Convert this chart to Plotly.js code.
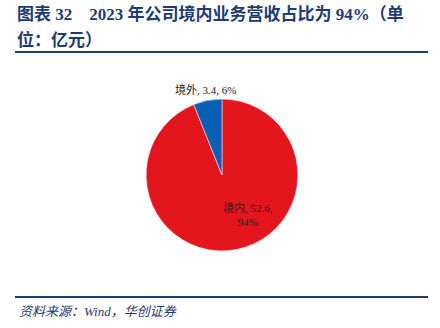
<!DOCTYPE html>
<html><head><meta charset="utf-8">
<script src="https://cdn.plot.ly/plotly-3.0.1.min.js"></script>
<style>html,body{margin:0;padding:0;background:#fff}#chart{width:440px;height:328px}</style>
</head><body><div id="chart"></div>
<script>
const categories = ["境内", "境外"];
const values = [52.6, 3.4];
const percents = ["94%", "6%"];
const colors = ["#E3161E", "#0A5FB4"];

const navy = "#1F3B73";
const serif = "'Liberation Serif','Noto Sans CJK SC',serif";

const data = [{
  type: "pie",
  labels: categories,
  values: values,
  sort: false,
  direction: "clockwise",
  rotation: 0,
  marker: {colors: colors, line: {color: "#ffffff", width: 0.5}},
  textinfo: "none",
  hoverinfo: "label+value+percent",
  automargin: false,
  domain: {x: [0.332, 0.677], y: [0.235, 0.698]},
  showlegend: false
}];

const layout = {
  width: 440, height: 328,
  margin: {l: 0, r: 0, t: 0, b: 0},
  paper_bgcolor: "#fff",
  showlegend: false,
  shapes: [
    {type: "line", xref: "paper", yref: "paper", x0: 15/440, x1: 428/440, y0: 1-52/328, y1: 1-52/328, line: {color: navy, width: 2}},
    {type: "line", xref: "paper", yref: "paper", x0: 15/440, x1: 428/440, y0: 1-297/328, y1: 1-297/328, line: {color: navy, width: 2}}
  ],
  annotations: [
    {xref: "paper", yref: "paper", x: 15/440, y: 1-14/328, xanchor: "left", yanchor: "middle", align: "left",
     text: "<b>图表 32　2023 年公司境内业务营收占比为 94%（单</b>",
     font: {family: serif, size: 17, color: navy}, showarrow: false},
    {xref: "paper", yref: "paper", x: 15/440, y: 1-40/328, xanchor: "left", yanchor: "middle", align: "left",
     text: "<b>位：亿元）</b>",
     font: {family: serif, size: 17, color: navy}, showarrow: false},
    {xref: "paper", yref: "paper", x: 205/440, y: 1-89/328, xanchor: "center", yanchor: "middle",
     text: categories[1] + ", " + values[1] + ", " + percents[1],
     font: {family: serif, size: 11, color: "#222"}, showarrow: false},
    {xref: "paper", yref: "paper", x: 248/440, y: 1-214/328, xanchor: "center", yanchor: "middle",
     text: categories[0] + ", " + values[0] + ",<br>" + percents[0],
     font: {family: serif, size: 11, color: "#222"}, showarrow: false},
    {xref: "paper", yref: "paper", x: 17/440, y: 1-311/328, xanchor: "left", yanchor: "middle",
     text: "<i>资料来源：Wind，华创证券</i>",
     font: {family: serif, size: 13, color: navy}, showarrow: false}
  ]
};

Plotly.newPlot("chart", data, layout, {displayModeBar: false, staticPlot: true});
</script></body></html>
